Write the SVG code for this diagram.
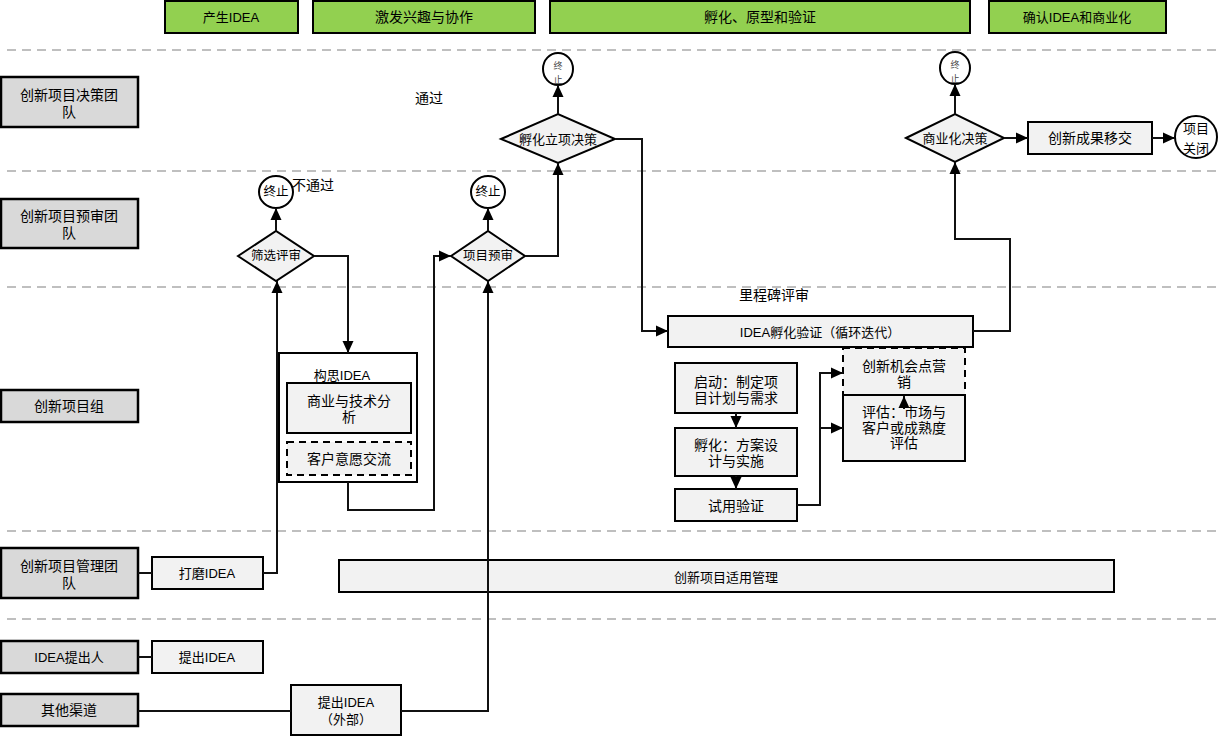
<svg xmlns="http://www.w3.org/2000/svg" width="1218" height="736" viewBox="0 0 1218 736">
<style>
text{font-family:"Liberation Sans","Noto Sans CJK SC",sans-serif;font-size:14px;fill:#000;text-anchor:middle;dominant-baseline:central}
.hdr{fill:#92D050;stroke:#000;stroke-width:2}
.lane{fill:#D9D9D9;stroke:#000;stroke-width:2.5}
.node{fill:#F2F2F2;stroke:#000;stroke-width:2}
.dash{fill:#F2F2F2;stroke:#000;stroke-width:2;stroke-dasharray:7 5}
.sep{stroke:#BFBFBF;stroke-width:2;stroke-dasharray:9 6;fill:none}
.term{fill:#fff;stroke:#000;stroke-width:2}
.c{fill:none;stroke:#111;stroke-width:2}
.s13{font-size:13px}
.s12{font-size:12.5px}
.tiny{font-size:9px;fill:#444}
</style>
<defs>
<marker id="ah" markerUnits="userSpaceOnUse" markerWidth="12" markerHeight="12" viewBox="0 0 12 12" refX="12" refY="6" orient="auto">
<path d="M0,0.5 L12,6 L0,11.5 z" fill="#000"/>
</marker>
</defs>
<rect width="1218" height="736" fill="#fff"/>
<g id="separators">
<line class="sep" x1="7" y1="50" x2="1218" y2="50"/>
<line class="sep" x1="7" y1="171" x2="1218" y2="171"/>
<line class="sep" x1="7" y1="287" x2="1218" y2="287"/>
<line class="sep" x1="7" y1="531" x2="1218" y2="531"/>
<line class="sep" x1="7" y1="619" x2="1218" y2="619"/>
</g>
<g id="phases">
<g id="phase1"><rect class="hdr" x="165" y="1" width="133" height="32"/><text x="231" y="17" class="s13">产生IDEA</text></g>
<g id="phase2"><rect class="hdr" x="313" y="1" width="222" height="32"/><text x="424" y="17">激发兴趣与协作</text></g>
<g id="phase3"><rect class="hdr" x="550" y="1" width="420" height="32"/><text x="760" y="17">孵化、原型和验证</text></g>
<g id="phase4"><rect class="hdr" x="989" y="1" width="177" height="32"/><text x="1077" y="17" class="s13">确认IDEA和商业化</text></g>
</g>
<g id="lanes">
<g id="lane1"><rect class="lane" x="1" y="77" width="137" height="50"/><text x="69" y="95">创新项目决策团<tspan x="69" dy="17">队</tspan></text></g>
<g id="lane2"><rect class="lane" x="1" y="199" width="137" height="49"/><text x="69" y="216">创新项目预审团<tspan x="69" dy="17">队</tspan></text></g>
<g id="lane3"><rect class="lane" x="1" y="390" width="137" height="32"/><text x="69" y="406">创新项目组</text></g>
<g id="lane4"><rect class="lane" x="1" y="548" width="137" height="50"/><text x="69" y="566">创新项目管理团<tspan x="69" dy="17">队</tspan></text></g>
<g id="lane5"><rect class="lane" x="1" y="641" width="137" height="32"/><text x="69" y="657" class="s13">IDEA提出人</text></g>
<g id="lane6"><rect class="lane" x="1" y="694" width="137" height="32"/><text x="69" y="710">其他渠道</text></g>
</g>
<g id="nodes">
<g id="n-polish"><rect class="node" x="152" y="557" width="111" height="32"/><text x="207" y="573" class="s13">打磨IDEA</text></g>
<g id="n-propose"><rect class="node" x="152" y="641" width="111" height="32"/><text x="207" y="657" class="s13">提出IDEA</text></g>
<g id="n-external"><rect class="node" x="291" y="685" width="110" height="50"/><text x="346" y="702" class="s13">提出IDEA<tspan x="346" dy="17">（外部）</tspan></text></g>
<g id="n-manage"><rect class="node" x="339" y="560" width="775" height="32"/><text x="726" y="577" class="s13">创新项目适用管理</text></g>
<g id="n-concept"><rect x="279" y="353" width="138" height="129" fill="#fff" stroke="#000" stroke-width="2"/><text x="342" y="375" class="s13">构思IDEA</text></g>
<g id="n-analysis"><rect class="node" x="287" y="383" width="124" height="50"/><text x="349" y="401">商业与技术分<tspan x="349" dy="16">析</tspan></text></g>
<g id="n-customer"><rect class="dash" x="287" y="442" width="124" height="33"/><text x="349" y="459">客户意愿交流</text></g>
<g id="n-screen"><polygon class="node" points="238,256 276,231 314,256 276,281"/><text x="276" y="256" class="s12">筛选评审</text></g>
<g id="n-stop1"><ellipse class="term" cx="276" cy="192" rx="17" ry="16"/><text x="276" y="192" class="s12">终止</text></g>
<g id="n-prereview"><polygon class="node" points="451,256 488,231 525,256 488,281"/><text x="488" y="256" class="s12">项目预审</text></g>
<g id="n-stop2"><ellipse class="term" cx="488" cy="192" rx="17" ry="16"/><text x="488" y="192" class="s12">终止</text></g>
<g id="n-incub-dec"><polygon class="node" points="501,139 558,114 615,139 558,163"/><text x="558" y="139" class="s13">孵化立项决策</text></g>
<g id="n-stop3"><ellipse class="term" cx="558" cy="69" rx="15" ry="16"/><text x="558" y="66" class="tiny">终<tspan x="558" dy="14">止</tspan></text></g>
<g id="n-comm-dec"><polygon class="node" points="906,138 955,114 1004,138 955,162"/><text x="955" y="138" class="s13">商业化决策</text></g>
<g id="n-stop4"><ellipse class="term" cx="955" cy="68" rx="15" ry="16"/><text x="955" y="65" class="tiny">终<tspan x="955" dy="14">止</tspan></text></g>
<g id="n-transfer"><rect class="node" x="1028" y="122" width="124" height="32"/><text x="1090" y="138">创新成果移交</text></g>
<g id="n-close"><ellipse class="term" cx="1196" cy="137" rx="21" ry="21"/><text x="1196" y="128" class="s13">项目<tspan x="1196" dy="20">关闭</tspan></text></g>
<g id="n-verify"><rect class="node" x="668" y="316" width="305" height="31"/><text x="820" y="332" class="s13">IDEA孵化验证（循环迭代）</text></g>
<g id="n-market"><rect class="dash" x="843" y="348" width="122" height="47"/><text x="904" y="366">创新机会点营<tspan x="904" dy="16">销</tspan></text></g>
<g id="n-assess"><rect class="node" x="843" y="395" width="122" height="66"/><text x="904" y="412">评估：市场与<tspan x="904" dy="15.5">客户或成熟度</tspan><tspan x="904" dy="15.5">评估</tspan></text></g>
<g id="n-start"><rect class="node" x="675" y="363" width="122" height="50"/><text x="736" y="382">启动：制定项<tspan x="736" dy="16">目计划与需求</tspan></text></g>
<g id="n-incubate"><rect class="node" x="675" y="428" width="122" height="48"/><text x="736" y="445">孵化：方案设<tspan x="736" dy="16">计与实施</tspan></text></g>
<g id="n-trial"><rect class="node" x="675" y="489" width="122" height="32"/><text x="736" y="506">试用验证</text></g>
</g>
<g id="labels">
<text x="313" y="185">不通过</text>
<text x="429" y="98">通过</text>
<text x="774" y="295">里程碑评审</text>
</g>
<g id="connectors">
<path class="c" d="M138,573 H152"/>
<path class="c" d="M138,657 H152"/>
<path class="c" d="M138,711 H291"/>
<path class="c" d="M263,573 H277 V281" marker-end="url(#ah)"/>
<path class="c" d="M276,231 V208" marker-end="url(#ah)"/>
<path class="c" d="M314,256 H348 V353" marker-end="url(#ah)"/>
<path class="c" d="M348,482 V510 H434 V256 H451" marker-end="url(#ah)"/>
<path class="c" d="M401,711 H488 V281" marker-end="url(#ah)"/>
<path class="c" d="M488,231 V208" marker-end="url(#ah)"/>
<path class="c" d="M525,256 H558 V163" marker-end="url(#ah)"/>
<path class="c" d="M558,114 V85" marker-end="url(#ah)"/>
<path class="c" d="M615,139 H642 V331 H668" marker-end="url(#ah)"/>
<path class="c" d="M973,331 H1010 V239 H955 V162" marker-end="url(#ah)"/>
<path class="c" d="M955,114 V84" marker-end="url(#ah)"/>
<path class="c" d="M1004,138 H1028" marker-end="url(#ah)"/>
<path class="c" d="M1152,138 H1175" marker-end="url(#ah)"/>
<path class="c" d="M736,413 V428" marker-end="url(#ah)"/>
<path class="c" d="M736,476 V489" marker-end="url(#ah)"/>
<path class="c" d="M797,505 H820 V373 H843" marker-end="url(#ah)"/>
<path class="c" d="M820,428 H843" marker-end="url(#ah)"/>
<path class="c" d="M904,409 V396" marker-end="url(#ah)"/>
</g>
</svg>
